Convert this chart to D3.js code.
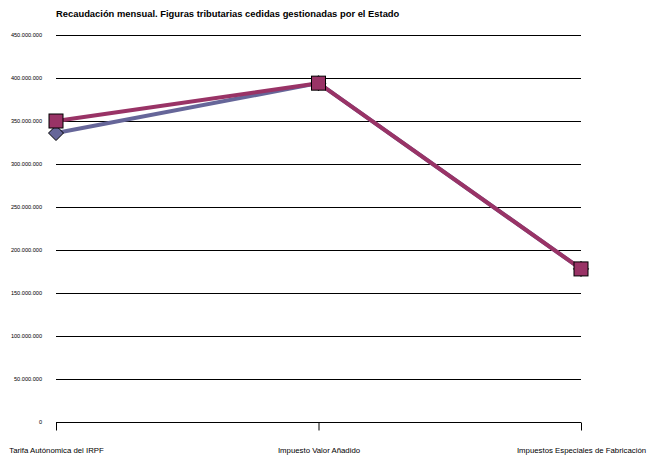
<!DOCTYPE html>
<html><head><meta charset="utf-8">
<script src="https://cdn.jsdelivr.net/npm/d3@7"></script>
<style>
body{margin:0;background:#fff;}
text{font-family:"Liberation Sans",Arial,sans-serif;fill:#000;}
</style></head>
<body><svg id="c" width="651" height="458"></svg>
<script>
const title = "Recaudación mensual. Figuras tributarias cedidas gestionadas por el Estado";
const categories = ["Tarifa Autónomica del IRPF", "Impuesto Valor Añadido", "Impuestos Especiales de Fabricación"];
const seriesBlue = [336000000, 394000000, 178000000];
const seriesPurple = [350000000, 394000000, 178000000];
const yTicks = [0, 50000000, 100000000, 150000000, 200000000, 250000000, 300000000, 350000000, 400000000, 450000000];

const svg = d3.select("#c");
const x = d3.scalePoint().domain(categories).range([56, 581]).padding(0);
const y = d3.scaleLinear().domain([0, 450000000]).range([422, 35]);
const loc = d3.formatLocale({decimal: ",", thousands: ".", grouping: [3], currency: ["", ""]});
const fmt = loc.format(",d");

svg.append("text").attr("x", 56).attr("y", 17).attr("font-size", "9.4px").attr("font-weight", "bold").text(title);

// gridlines
svg.append("g").selectAll("line").data(yTicks.filter(d => d > 0)).join("line")
  .attr("x1", 56).attr("x2", 581)
  .attr("y1", d => Math.round(y(d)) + 0.5).attr("y2", d => Math.round(y(d)) + 0.5)
  .attr("stroke", "#000").attr("stroke-width", 1);

// y labels
svg.append("g").selectAll("text").data(yTicks).join("text")
  .attr("x", 42).attr("y", d => y(d) + 2).attr("text-anchor", "end")
  .attr("font-size", "5.6px").text(d => fmt(d));

// x axis
const xa = svg.append("g").attr("transform", "translate(0," + (Math.round(y(0)) + 0.5) + ")")
  .call(d3.axisBottom(x).tickSize(8).tickSizeOuter(0));
xa.select(".domain").attr("stroke", "#000").attr("d", "M56,0H581");
xa.selectAll(".tick line").attr("stroke", "#000");
xa.selectAll(".tick text").attr("font-size", "7.8px").attr("y", 25)
  .attr("font-family", '"Liberation Sans",Arial,sans-serif').attr("fill", "#000");

const line = d3.line().x((d, i) => x(categories[i])).y(d => y(d));
const sets = [
  {vals: seriesBlue, color: "#666699", shape: "diamond"},
  {vals: seriesPurple, color: "#993366", shape: "square"}
];
sets.forEach(s => {
  svg.append("path").datum(s.vals).attr("d", line).attr("fill", "none")
    .attr("stroke", s.color).attr("stroke-width", 4).attr("stroke-linejoin", "round");
});
sets.forEach(s => {
  const g = svg.append("g");
  if (s.shape === "square") {
    g.selectAll("rect").data(s.vals).join("rect")
      .attr("x", (d, i) => x(categories[i]) - 7).attr("y", d => y(d) - 7)
      .attr("width", 14).attr("height", 14)
      .attr("fill", s.color).attr("stroke", "#000").attr("stroke-width", 1);
  } else {
    g.selectAll("path").data(s.vals).join("path")
      .attr("d", (d, i) => { const cx = x(categories[i]), cy = y(d), r = 7.5;
        return `M${cx},${cy - r}L${cx + r},${cy}L${cx},${cy + r}L${cx - r},${cy}Z`; })
      .attr("fill", s.color).attr("stroke", "#000").attr("stroke-width", 1);
  }
});
</script></body></html>
